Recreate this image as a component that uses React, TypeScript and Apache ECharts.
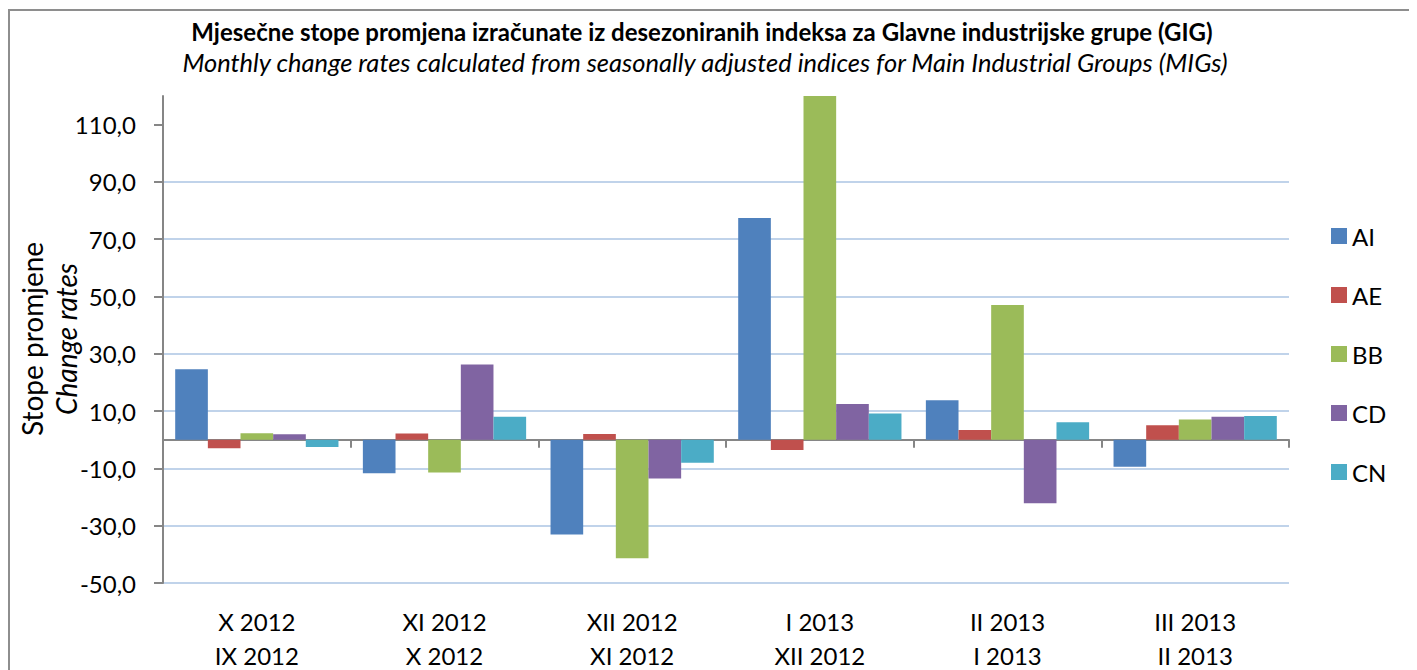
import React, { useEffect, useRef } from "react";
import * as echarts from "echarts";

const categories = [
  "X 2012\nIX 2012",
  "XI 2012\nX 2012",
  "XII 2012\nXI 2012",
  "I 2013\nXII 2012",
  "II 2013\nI 2013",
  "III 2013\nII 2013",
];

const seriesNames = ["AI", "AE", "BB", "CD", "CN"];
const AI = [24.6, -11.7, -33.1, 77.4, 13.8, -9.4];
const AE = [-3.0, 2.2, 2.0, -3.6, 3.4, 5.1];
const BB = [2.3, -11.4, -41.4, 120.0, 47.0, 7.1];
const CD = [1.9, 26.3, -13.5, 12.5, -22.2, 8.0];
const CN = [-2.5, 8.0, -8.0, 9.2, 6.1, 8.3];
const seriesValues = [AI, AE, BB, CD, CN];
const colors = ["#4F81BD", "#C0504D", "#9BBB59", "#8064A2", "#4BACC6"];

const yTicks = [-50, -30, -10, 10, 30, 50, 70, 90, 110];

const titleMain =
  "Mjesečne stope promjena izračunate iz desezoniranih indeksa za Glavne industrijske grupe (GIG)";
const titleSub =
  "Monthly change rates calculated from seasonally adjusted indices for Main Industrial Groups (MIGs)";

const FONT = "Lato, 'Noto Sans', sans-serif";

export default function App() {
  const ref = useRef<HTMLDivElement>(null);
  useEffect(() => {
    document.documentElement.style.overflow = "hidden";
    document.body.style.overflow = "hidden";
    if (!ref.current) return;
    const chart = echarts.init(ref.current, undefined, { renderer: "svg" });
    chart.setOption({
      animation: false,
      color: colors,
      textStyle: { fontFamily: FONT },
      graphic: [
        {
          type: "rect",
          shape: { x: 1, y: 2, width: 1401, height: 800 },
          style: { fill: "none", stroke: "#8E8E8E", lineWidth: 2 },
          silent: true,
        },
        {
          type: "text",
          x: 694,
          y: 23,
          style: {
            text: titleMain,
            fontFamily: FONT,
            fontWeight: "bold",
            fontSize: 24,
            fill: "#000",
            align: "center",
            verticalAlign: "middle",
          },
        },
        {
          type: "text",
          x: 697,
          y: 54,
          style: {
            text: titleSub,
            fontFamily: FONT,
            fontStyle: "italic",
            fontSize: 25.5,
            fill: "#000",
            align: "center",
            verticalAlign: "middle",
          },
        },
        {
          type: "text",
          x: 41,
          y: 331,
          rotation: Math.PI / 2,
          style: {
            text: "{a|Stope promjene}\n{b|Change rates}",
            align: "center",
            verticalAlign: "middle",
            rich: {
              a: { fontFamily: FONT, fontSize: 28, lineHeight: 34, fill: "#000" },
              b: { fontFamily: FONT, fontSize: 28, lineHeight: 34, fontStyle: "italic", fill: "#000" },
            },
          },
        },
      ],
      legend: {
        orient: "vertical",
        left: 1318,
        top: 211,
        itemWidth: 16,
        itemHeight: 16,
        itemGap: 35,
        icon: "rect",
        data: seriesNames,
        textStyle: { fontFamily: FONT, fontSize: 24, lineHeight: 24, color: "#000" },
      },
      grid: {
        left: 155,
        top: 88,
        width: 1126,
        height: 487,
        containLabel: false,
        outerBoundsMode: "none",
      },
      xAxis: {
        type: "category",
        data: categories,
        axisLine: { onZero: true, lineStyle: { color: "#868686", width: 2 } },
        axisTick: { show: true, alignWithLabel: false, length: 8, lineStyle: { color: "#868686", width: 2 } },
        axisLabel: {
          fontFamily: FONT,
          fontSize: 24,
          lineHeight: 34,
          color: "#000",
          margin: 21,
          interval: 0,
        },
        splitLine: { show: false },
      },
      yAxis: {
        type: "value",
        min: -50,
        max: 120,
        interval: 20,
        axisLine: { show: true, lineStyle: { color: "#868686", width: 2 } },
        axisTick: { show: true, length: 9, customValues: yTicks, lineStyle: { color: "#868686", width: 2 } },
        axisLabel: {
          fontFamily: FONT,
          fontSize: 24,
          color: "#000",
          margin: 27,
          customValues: yTicks,
          formatter: (v: number) => v.toFixed(1).replace(".", ","),
        },
        splitLine: { show: true, showMaxLine: false, lineStyle: { color: "#C0D3EA", width: 2 } },
      },
      series: seriesNames.map((name, i) => ({
        name,
        type: "bar",
        data: seriesValues[i],
        barGap: "0%",
        barCategoryGap: "13%",
        itemStyle: { color: colors[i] },
      })),
    });
    return () => chart.dispose();
  }, []);
  return <div ref={ref} style={{ width: 1409, height: 700 }} />;
}
